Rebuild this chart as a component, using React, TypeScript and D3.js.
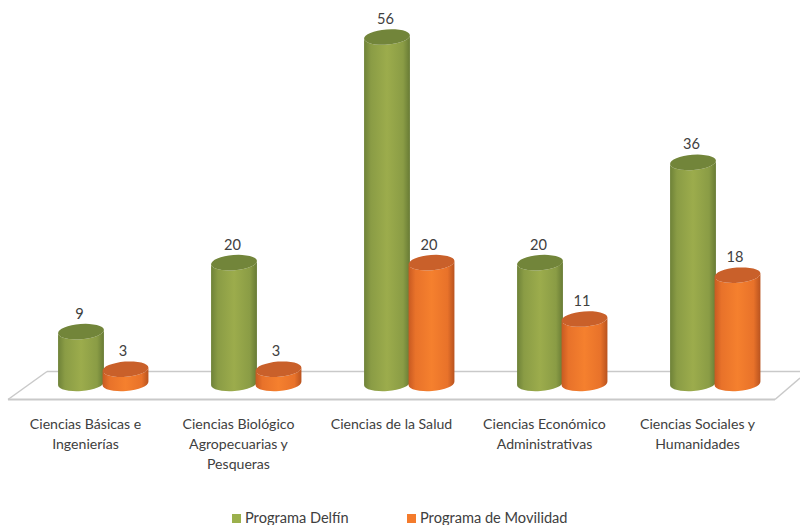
import React from "react";
import * as d3 from "d3";

const categories = [
  ["Ciencias Básicas e", "Ingenierías"],
  ["Ciencias Biológico", "Agropecuarias y", "Pesqueras"],
  ["Ciencias de la Salud"],
  ["Ciencias Económico", "Administrativas"],
  ["Ciencias Sociales y", "Humanidades"],
];
const delfin = [9, 20, 56, 20, 36];
const movilidad = [3, 3, 20, 11, 18];
const seriesNames = ["Programa Delfín", "Programa de Movilidad"];

const W = 800, H = 525;
const FONT = "Lato, 'Noto Sans', sans-serif";
const TEXT = "#404040";
const RX = 23, RY = 7.6, TILT = 4.5;
const rad = (TILT * Math.PI) / 180;

const x = d3.scalePoint<number>().domain(d3.range(categories.length)).range([85.5, 697.5]);
const y = d3.scaleLinear().domain([0, 56]).range([388, 37]);
const baseY = y(0) - 4.6;

function bodyPath(cx: number, topY: number) {
  const dx = RX * Math.cos(rad), dy = RX * Math.sin(rad);
  const p = d3.path();
  p.moveTo(cx - dx, topY + dy);
  p.lineTo(cx - dx, baseY + dy);
  const bottom = `A${RX},${RY} ${-TILT} 0 0 ${cx + dx},${baseY - dy}`;
  const top = `A${RX},${RY} ${-TILT} 0 1 ${cx - dx},${topY + dy}`;
  return `${p.toString()}${bottom}L${cx + dx},${topY - dy}${top}Z`;
}

function Cylinder({ cx, value, grad, top }: { cx: number; value: number; grad: string; top: string }) {
  const ty = y(value);
  return (
    <g>
      <path d={bodyPath(cx, ty)} fill={`url(#${grad})`} />
      <ellipse cx={cx} cy={ty} rx={RX} ry={RY} fill={top} transform={`rotate(${-TILT} ${cx} ${ty})`} />
    </g>
  );
}

const floor = [
  [[47, 371.5], [800, 371.5]],
  [[8, 399.5], [775, 399.5]],
  [[47, 371.5], [8, 399.5]],
  [[775, 399.5], [800, 378]],
] as [number, number][][];

export default function App() {
  const line = d3.line();
  return (
    <svg width={W} height={H} viewBox={`0 0 ${W} ${H}`} style={{ position: "fixed", left: 0, top: 0, background: "#fff" }} fontFamily={FONT}>
      <defs>
        <linearGradient id="gGreen" x1="0" x2="1" y1="0" y2="0">
          <stop offset="0" stopColor="#6e8238" />
          <stop offset="0.15" stopColor="#8a9c45" />
          <stop offset="0.5" stopColor="#9cac4c" />
          <stop offset="0.85" stopColor="#8a9c45" />
          <stop offset="1" stopColor="#687b35" />
        </linearGradient>
        <linearGradient id="gOrange" x1="0" x2="1" y1="0" y2="0">
          <stop offset="0" stopColor="#c85a22" />
          <stop offset="0.15" stopColor="#e8722a" />
          <stop offset="0.5" stopColor="#f5802e" />
          <stop offset="0.85" stopColor="#e8722a" />
          <stop offset="1" stopColor="#b9531f" />
        </linearGradient>
      </defs>
      {floor.map((s, i) => (
        <path key={i} d={line(s) as string} fill="none" stroke="#c9c9c9" strokeWidth={i === 1 ? 2 : 1.5} />
      ))}
      {categories.map((_, i) => {
        const c = x(i) as number;
        return (
          <g key={i}>
            <Cylinder cx={c - 4.5} value={delfin[i]} grad="gGreen" top="#72853a" />
            <Cylinder cx={c + 40} value={movilidad[i]} grad="gOrange" top="#c9602a" />
          </g>
        );
      })}
      {categories.map((_, i) => {
        const c = x(i) as number;
        return (
          <g key={i} fontSize={14.6} fill={TEXT} textAnchor="middle">
            <text x={c - 6} y={y(delfin[i]) - 13}>{delfin[i]}</text>
            <text x={c + 37.5} y={y(movilidad[i]) - 13}>{movilidad[i]}</text>
          </g>
        );
      })}
      {categories.map((lines, i) => (
        <text key={i} fontSize={14.1} fill={TEXT} textAnchor="middle">
          {lines.map((l, j) => (
            <tspan key={j} x={x(i) as number} y={429 + j * 20}>{l}</tspan>
          ))}
        </text>
      ))}
      <g fontSize={14.6} fill={TEXT}>
        <rect x={232} y={514} width={9} height={9} fill="#9bb04c" />
        <text x={245} y={522.5}>{seriesNames[0]}</text>
        <rect x={407} y={514} width={9} height={9} fill="#f47b2c" />
        <text x={420} y={522.5}>{seriesNames[1]}</text>
      </g>
    </svg>
  );
}
